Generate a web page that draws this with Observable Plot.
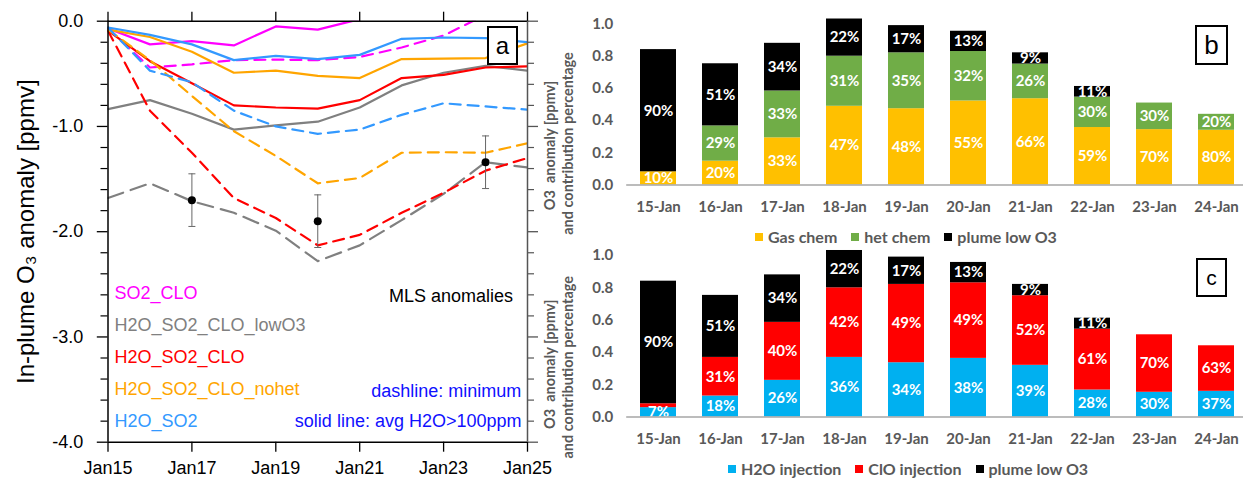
<!DOCTYPE html>
<html><head><meta charset="utf-8">
<script src="https://cdn.jsdelivr.net/npm/d3@7"></script>
<script src="https://cdn.jsdelivr.net/npm/@observablehq/plot@0.6"></script>
<style>
html,body{margin:0;padding:0;background:#fff;}
#wrap{position:relative;width:1243px;height:479px;overflow:hidden;background:#fff;}
.panel{position:absolute;}
.box{position:absolute;border:2px solid #000;box-sizing:border-box;background:#fff;display:flex;align-items:center;justify-content:center;font-family:"Liberation Sans",Arial,sans-serif;color:#000;line-height:1;}
.leg{position:absolute;}
.leg > div{font-family:Lato,sans-serif !important;font-weight:700 !important;font-size:16px !important;color:#595959 !important;margin:0 !important;min-height:0 !important;}
.leg span{margin-right:14px !important;}
.leg svg{margin-right:5px !important;}
</style></head><body><div id="wrap"></div>
<script>
// ---------- Panel a data ----------
const days = [15,16,17,18,19,20,21,22,23,24,25];
const xTickDays = [15,17,19,21,23,25];
const yMajorTicks = [0,-1,-2,-3,-4];
const yMinorTicks = [-0.2,-0.4,-0.6,-0.8,-1.2,-1.4,-1.6,-1.8,-2.2,-2.4,-2.6,-2.8,-3.2,-3.4,-3.6,-3.8];

const seriesNames = ["SO2_CLO","H2O_SO2_CLO_lowO3","H2O_SO2_CLO","H2O_SO2_CLO_nohet","H2O_SO2"];
const seriesColors = ["#ff00ff","#808080","#ff0000","#ffa500","#3399ff"];

// solid line: avg H2O>100ppm ; dashline: minimum
const so2CloAvg   = [-0.07,-0.22,-0.19,-0.23,-0.05,-0.08,0.02];
const so2CloMin   = [-0.07,-0.44,-0.41,-0.37,-0.365,-0.37,-0.34,-0.25,-0.136,0.06];
const lowO3Avg    = [-0.835,-0.75,-0.88,-1.03,-0.99,-0.955,-0.82,-0.61,-0.49,-0.425,-0.47];
const lowO3Min    = [-1.68,-1.54,-1.71,-1.82,-1.99,-2.28,-2.13,-1.89,-1.64,-1.34,-1.39];
const h2oSo2CloAvg= [-0.09,-0.38,-0.59,-0.80,-0.82,-0.83,-0.75,-0.54,-0.51,-0.44,-0.43];
const h2oSo2CloMin= [-0.09,-0.85,-1.25,-1.68,-1.87,-2.13,-2.03,-1.82,-1.63,-1.42,-1.30];
const nohetAvg    = [-0.08,-0.15,-0.29,-0.49,-0.47,-0.52,-0.54,-0.36,-0.355,-0.35,-0.21];
const nohetMin    = [-0.08,-0.37,-0.71,-1.045,-1.28,-1.54,-1.49,-1.25,-1.245,-1.25,-1.16];
const h2oSo2Avg   = [-0.06,-0.13,-0.22,-0.37,-0.33,-0.36,-0.32,-0.167,-0.155,-0.16,-0.20];
const h2oSo2Min   = [-0.06,-0.47,-0.58,-0.85,-1.00,-1.07,-1.03,-0.89,-0.78,-0.81,-0.84];

const avgSeries = [so2CloAvg, lowO3Avg, h2oSo2CloAvg, nohetAvg, h2oSo2Avg];
const minSeries = [so2CloMin, lowO3Min, h2oSo2CloMin, nohetMin, h2oSo2Min];

const mlsDays = [17,20,24];
const mlsValues = [-1.70,-1.90,-1.34];
const mlsErrors = [0.25,0.25,0.25];

// ---------- Panel b / c data ----------
const dates = ["15-Jan","16-Jan","17-Jan","18-Jan","19-Jan","20-Jan","21-Jan","22-Jan","23-Jan","24-Jan"];
const yTicksBar = [0,0.2,0.4,0.6,0.8,1.0];

const seriesB = ["Gas chem","het chem","plume low O3"];
const colorsB = ["#ffc000","#70ad47","#000000"];
const gasChem   = [0.082,0.148,0.293,0.489,0.474,0.522,0.536,0.357,0.344,0.340];
const hetChem   = [0.000,0.219,0.291,0.311,0.347,0.307,0.215,0.189,0.165,0.099];
const plumeLowB = [0.759,0.386,0.296,0.231,0.169,0.126,0.070,0.066,0.000,0.000];
const gasPct   = ["10%","20%","33%","47%","48%","55%","66%","59%","70%","80%"];
const hetPct   = ["","29%","33%","31%","35%","32%","26%","30%","30%","20%"];
const plumePctB= ["90%","51%","34%","22%","17%","13%","9%","11%","",""];

const seriesC = ["H2O injection","ClO injection","plume low O3"];
const colorsC = ["#00b0f0","#ff0000","#000000"];
const h2oInj    = [0.058,0.130,0.227,0.369,0.336,0.363,0.320,0.167,0.153,0.159];
const cloInj    = [0.024,0.239,0.359,0.431,0.485,0.468,0.431,0.377,0.356,0.282];
const plumeLowC = [0.759,0.384,0.294,0.231,0.169,0.126,0.070,0.068,0.000,0.000];
const h2oPct   = ["7%","18%","26%","36%","34%","38%","39%","28%","30%","37%"];
const cloPct   = ["","31%","40%","42%","49%","49%","52%","61%","70%","63%"];
const plumePctC= ["90%","51%","34%","22%","17%","13%","9%","11%","",""];

const wrap = document.getElementById("wrap");
function place(el, left, top){ el.classList.add("panel"); el.style.left=left+"px"; el.style.top=top+"px"; wrap.appendChild(el); return el; }

// ---------- Panel a ----------
const lineRows = [];
seriesNames.forEach((s,j)=>{
  avgSeries[j].forEach((v,i)=>lineRows.push({series:s, kind:"avg", day:days[i], value:v}));
  minSeries[j].forEach((v,i)=>lineRows.push({series:s, kind:"min", day:days[i], value:v}));
});
const mls = mlsDays.map((d,i)=>({day:d, value:mlsValues[i], low:mlsValues[i]-mlsErrors[i], high:mlsValues[i]+mlsErrors[i]}));
const capSymbol = {draw(ctx,size){const w=Math.sqrt(size/Math.PI); ctx.moveTo(-w,0); ctx.lineTo(w,0);}};

const fa = '"Liberation Sans", Arial, sans-serif';
const aMarks = [];
aMarks.push(Plot.axisY(yMajorTicks,{anchor:"left",tickSize:10.7,tickPadding:14,tickFormat:d=>d.toFixed(1),fontSize:18,label:null,strokeWidth:1.3}));
aMarks.push(Plot.axisY(yMinorTicks,{anchor:"left",tickSize:7,tickFormat:()=>"",label:null,strokeWidth:1.2}));
aMarks.push(Plot.axisY(yMajorTicks,{anchor:"right",tickSize:10,tickFormat:()=>"",label:null,stroke:"#555",strokeWidth:1.3}));
aMarks.push(Plot.axisY(yMinorTicks,{anchor:"right",tickSize:6,tickFormat:()=>"",label:null,stroke:"#555",strokeWidth:1.2}));
aMarks.push(Plot.axisX(xTickDays,{anchor:"top",tickSize:10,tickFormat:()=>"",label:null,strokeWidth:1.3}));
aMarks.push(Plot.axisX(xTickDays,{anchor:"bottom",tickSize:10,tickPadding:9,tickFormat:d=>"Jan"+d,fontSize:18,label:null,strokeWidth:1.3}));
seriesNames.forEach((s,j)=>{
  const dashed = s==="H2O_SO2_CLO_lowO3" ? "16,8" : "11,7";
  aMarks.push(Plot.line(lineRows.filter(r=>r.series===s && r.kind==="min"),{x:"day",y:"value",stroke:seriesColors[j],strokeWidth:2.2,strokeDasharray:dashed,clip:true}));
  aMarks.push(Plot.line(lineRows.filter(r=>r.series===s && r.kind==="avg"),{x:"day",y:"value",stroke:seriesColors[j],strokeWidth:2.2,clip:true}));
});
aMarks.push(Plot.ruleY([0],{stroke:"#000",strokeWidth:1.5}));
aMarks.push(Plot.ruleY([-4],{stroke:"#000",strokeWidth:1.5}));
aMarks.push(Plot.ruleX([15],{stroke:"#000",strokeWidth:1.5}));
aMarks.push(Plot.ruleX([25],{stroke:"#555",strokeWidth:1.5}));
aMarks.push(Plot.ruleX(mls,{x:"day",y1:"low",y2:"high",stroke:"#666",strokeWidth:1}));
aMarks.push(Plot.dot(mls,{x:"day",y:"low",symbol:capSymbol,r:3.5,stroke:"#666",strokeWidth:1}));
aMarks.push(Plot.dot(mls,{x:"day",y:"high",symbol:capSymbol,r:3.5,stroke:"#666",strokeWidth:1}));
aMarks.push(Plot.dot(mls,{x:"day",y:"value",r:4,fill:"#000",stroke:null}));
seriesNames.forEach((s,j)=>{
  aMarks.push(Plot.text([s],{text:d=>d,frameAnchor:"top-left",textAnchor:"start",lineAnchor:"middle",dx:6.5,dy:272.5+j*31.8,fill:seriesColors[j],fontSize:18}));
});
aMarks.push(Plot.text(["MLS anomalies"],{text:d=>d,frameAnchor:"top-right",textAnchor:"end",lineAnchor:"middle",dx:-14.5,dy:275,fill:"#000",fontSize:18}));
aMarks.push(Plot.text(["dashline: minimum"],{text:d=>d,frameAnchor:"top-right",textAnchor:"end",lineAnchor:"middle",dx:-6.3,dy:370,fill:"#1010ff",fontSize:18}));
aMarks.push(Plot.text(["solid line: avg H2O>100ppm"],{text:d=>d,frameAnchor:"top-right",textAnchor:"end",lineAnchor:"middle",dx:-6,dy:400,fill:"#1010ff",fontSize:18}));
aMarks.push(Plot.text(["In-plume O\u2083 anomaly [ppmv]"],{text:d=>d,frameAnchor:"left",rotate:-90,textAnchor:"middle",lineAnchor:"middle",dx:-81.5,fontSize:24,fill:"#000"}));

const chartA = Plot.plot({
  width:540, height:479,
  marginLeft:107.5, marginRight:13, marginTop:20.7, marginBottom:37.3,
  x:{domain:[15,25]},
  y:{domain:[-4,0]},
  style:{background:"transparent",overflow:"visible",fontFamily:fa,color:"#000"},
  marks:aMarks
});
place(chartA,0,0);

// ---------- Panels b and c ----------
function stackedPanel(series, colors, values, labels, height, mTop, mBottom, lab1Dy, lab2Dy){
  const rows=[];
  dates.forEach((d,i)=>series.forEach((s,j)=>rows.push({date:d,series:s,value:values[j][i],label:labels[j][i]})));
  return Plot.plot({
    width:720, height,
    marginLeft:96.2, marginRight:3.1, marginTop:mTop, marginBottom:mBottom,
    x:{domain:dates,paddingInner:0.425,paddingOuter:0.2125},
    y:{domain:[0,1]},
    color:{domain:series,range:colors},
    style:{background:"transparent",overflow:"visible",fontFamily:"Lato, sans-serif",fontWeight:"700",color:"#595959"},
    marks:[
      Plot.barY(rows,{x:"date",y:"value",fill:"series",z:"series"}),
      Plot.text(rows,Plot.stackY({x:"date",y:"value",z:"series",text:"label",fill:"white",fontSize:15,fontWeight:700})),
      Plot.ruleY([0],{stroke:"#a6a6a6",strokeWidth:1.5}),
      Plot.axisY(yTicksBar,{anchor:"left",tickSize:0,tickPadding:13.5,tickFormat:d=>d.toFixed(1),fontSize:15,label:null,color:"#595959"}),
      Plot.axisX({anchor:"bottom",tickSize:0,tickPadding:16,fontSize:15,label:null,color:"#595959"}),
      Plot.text(["O3  anomaly [ppmv]"],{text:d=>d,frameAnchor:"left",rotate:-90,textAnchor:"middle",lineAnchor:"middle",dx:-76.2,dy:lab1Dy,fontSize:14.5,fill:"#595959"}),
      Plot.text(["and contribution percentage"],{text:d=>d,frameAnchor:"left",rotate:-90,textAnchor:"middle",lineAnchor:"middle",dx:-58.2,dy:lab2Dy,fontSize:14.5,fill:"#595959"})
    ]
  });
}
const chartB = stackedPanel(seriesB,colorsB,[gasChem,hetChem,plumeLowB],[gasPct,hetPct,plumePctB],250,23.5,65.5,41,39);
place(chartB,530,0);
const chartC = stackedPanel(seriesC,colorsC,[h2oInj,cloInj,plumeLowC],[h2oPct,cloPct,plumePctC],247,23,62.5,28,31);
place(chartC,530,232);

const legB = document.createElement("div"); legB.className="leg"; legB.style.left="755px"; legB.style.top="227px";
legB.appendChild(chartB.legend("color",{swatchSize:8})); wrap.appendChild(legB);
const legC = document.createElement("div"); legC.className="leg"; legC.style.left="728px"; legC.style.top="459px";
legC.appendChild(chartC.legend("color",{swatchSize:8})); wrap.appendChild(legC);

function box(letter,left,top,w,h,fs){const b=document.createElement("div");b.className="box";b.style.left=left+"px";b.style.top=top+"px";b.style.width=w+"px";b.style.height=h+"px";b.style.fontSize=fs+"px";b.textContent=letter;wrap.appendChild(b);}
box("a",487,26,31,39,24);
box("b",1195,25,33,40,26);
box("c",1196,258,31,39,21);
</script></body></html>
